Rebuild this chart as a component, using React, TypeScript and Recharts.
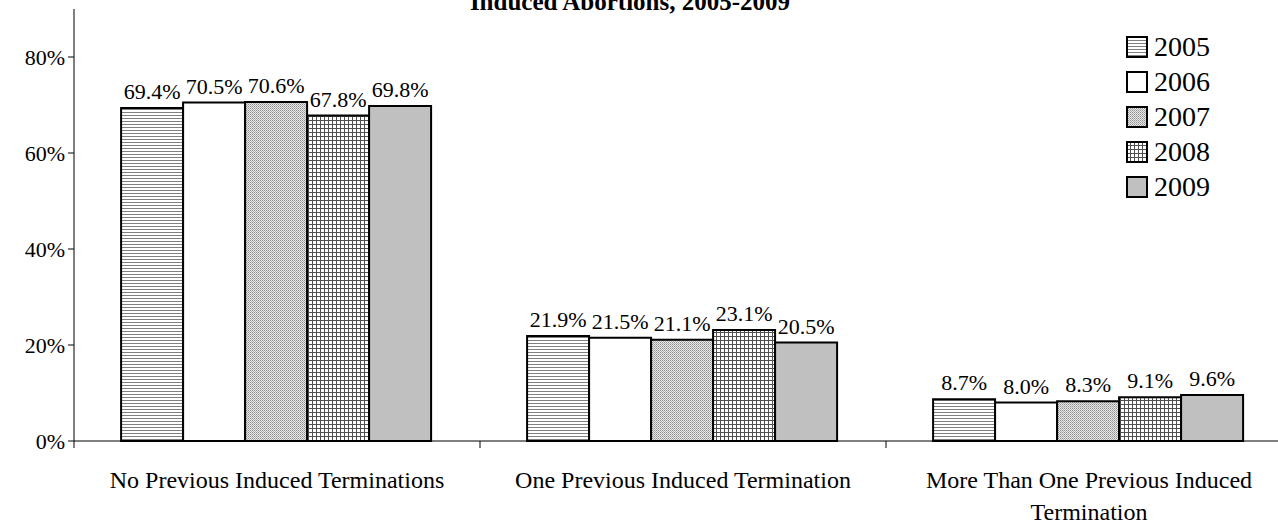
import { BarChart, Bar, XAxis, YAxis, LabelList, Legend } from 'recharts'

const categories = [
  'No Previous Induced Terminations',
  'One Previous Induced Termination',
  'More Than One Previous Induced Termination',
]
const years = ['2005', '2006', '2007', '2008', '2009']
const pct2005 = [69.4, 21.9, 8.7]
const pct2006 = [70.5, 21.5, 8.0]
const pct2007 = [70.6, 21.1, 8.3]
const pct2008 = [67.8, 23.1, 9.1]
const pct2009 = [69.8, 20.5, 9.6]
const yTicks = [0, 20, 40, 60, 80]

const seriesValues = [pct2005, pct2006, pct2007, pct2008, pct2009]
const data = categories.map((name, i) => {
  const row: Record<string, string | number> = { name }
  years.forEach((y, j) => { row[y] = seriesValues[j][i] })
  return row
})

const FONT = '"Liberation Serif", "Times New Roman", serif'
const fills: Record<string, string> = {
  '2005': 'url(#p2005)',
  '2006': '#ffffff',
  '2007': 'url(#p2007)',
  '2008': 'url(#p2008)',
  '2009': '#c0c0c0',
}

// greedy word wrap, measured with a canvas
let ctx: CanvasRenderingContext2D | null = null
function wrap(text: string, font: string, maxWidth: number) {
  if (!ctx) ctx = document.createElement('canvas').getContext('2d')
  ctx!.font = font
  const lines: string[] = []
  let cur = ''
  text.split(' ').forEach((w) => {
    const next = cur ? cur + ' ' + w : w
    if (cur && ctx!.measureText(next).width > maxWidth) {
      lines.push(cur)
      cur = w
    } else {
      cur = next
    }
  })
  if (cur) lines.push(cur)
  return lines
}

// category label + small boundary tick at the left edge of each band
function CategoryTick(props: any) {
  const { x, y, payload, width, visibleTicksCount } = props
  const band = width / visibleTicksCount
  const lines = wrap(payload.value, `24px ${FONT}`, 365)
  return (
    <g>
      <line x1={x - band / 2} x2={x - band / 2} y1={y} y2={y + 7} stroke="#000" strokeWidth={1} />
      <text x={x} y={y + 47} textAnchor="middle" fontSize={24} fontFamily={FONT} fill="#000">
        {lines.map((l, i) => (
          <tspan key={i} x={x} dy={i === 0 ? 0 : 32}>{l}</tspan>
        ))}
      </text>
    </g>
  )
}

function LegendBox(props: any) {
  const { payload } = props
  return (
    <div style={{ fontFamily: FONT, fontSize: 28, lineHeight: '35px' }}>
      {payload.map((p: any) => (
        <div key={p.value} style={{ display: 'flex', alignItems: 'center' }}>
          <svg width={22} height={22} style={{ marginRight: 6 }}>
            <rect x={1} y={1} width={20} height={20} fill={fills[p.value]} stroke="#000" strokeWidth={2} />
          </svg>
          <span>{p.value}</span>
        </div>
      ))}
    </div>
  )
}

export default function App() {
  return (
    <div style={{ position: 'absolute', left: 0, top: 0, width: 1278, height: 522, overflow: 'hidden', background: '#fff' }}>
      <div
        style={{
          position: 'absolute', left: 0, width: 1260, top: -11, textAlign: 'center',
          fontFamily: FONT, fontWeight: 'bold', fontSize: 25, lineHeight: '25px', zIndex: 2,
        }}
      >
        Induced Abortions, 2005-2009
      </div>
      <BarChart
        width={1292}
        height={522}
        data={data}
        margin={{ top: 9, right: 0, bottom: 0, left: 0 }}
        barGap={0}
        barCategoryGap="11.6%"
      >
        <defs>
          <pattern id="p2005" width="4" height="3" patternUnits="userSpaceOnUse">
            <rect width="4" height="3" fill="#fff" />
            <rect y="1" width="4" height="1" fill="#808080" />
          </pattern>
          <pattern id="p2007" width="2" height="2" patternUnits="userSpaceOnUse">
            <rect width="2" height="2" fill="#e8e8e8" />
            <rect width="1" height="1" fill="#909090" />
            <rect x="1" y="1" width="1" height="1" fill="#b0b0b0" />
          </pattern>
          <pattern id="p2008" width="4" height="4" patternUnits="userSpaceOnUse">
            <rect width="4" height="4" fill="#fff" />
            <rect width="4" height="1" fill="#505050" />
            <rect width="1" height="4" fill="#505050" />
          </pattern>
        </defs>
        <XAxis
          dataKey="name"
          tickLine={false}
          tickSize={0}
          tickMargin={0}
          axisLine={{ stroke: '#000', strokeWidth: 1 }}
          height={81}
          interval={0}
          tick={<CategoryTick />}
        />
        <YAxis
          domain={[0, 90]}
          ticks={yTicks}
          width={74}
          tickFormatter={(v: number) => `${v}%`}
          axisLine={{ stroke: '#000', strokeWidth: 1 }}
          tickLine={{ stroke: '#000' }}
          tickSize={6}
          tickMargin={3}
          tick={{ fill: '#000', fontSize: 22, fontFamily: FONT }}
        />
        <Legend
          layout="horizontal"
          verticalAlign="middle"
          align="center"
          content={<LegendBox />}
          wrapperStyle={{ top: 29, left: 1126, width: 120 }}
        />
        {years.map((y) => (
          <Bar key={y} dataKey={y} fill={fills[y]} stroke="#000" strokeWidth={2} isAnimationActive={false}>
            <LabelList
              dataKey={y}
              position="top"
              offset={9}
              formatter={(v: any) => `${Number(v).toFixed(1)}%`}
              style={{ fill: '#000', fontSize: 22, fontFamily: FONT }}
            />
          </Bar>
        ))}
      </BarChart>
    </div>
  )
}
